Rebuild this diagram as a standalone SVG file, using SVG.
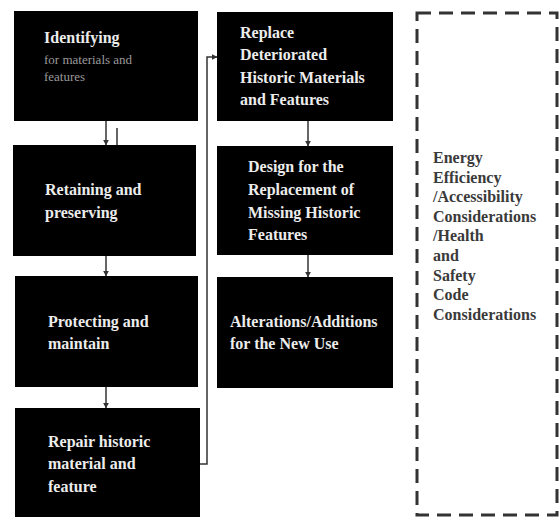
<svg xmlns="http://www.w3.org/2000/svg" width="559" height="517" viewBox="0 0 559 517">
<style>
.box{fill:#000}
.t{font-family:"Liberation Serif","Times New Roman",serif;font-weight:bold;font-size:16px;fill:#ececec}
.s{font-family:"Liberation Serif","Times New Roman",serif;font-size:13px;fill:#9a9a9a}
.d{font-family:"Liberation Serif","Times New Roman",serif;font-weight:bold;font-size:16px;fill:#3a3a3a}
.c{fill:none;stroke:#333;stroke-width:1.5}
</style>
<defs>
<marker id="ah" viewBox="0 0 10 10" refX="9" refY="5" markerWidth="6" markerHeight="6" orient="auto" markerUnits="userSpaceOnUse">
<path d="M0,0 L10,5 L0,10 z" fill="#333"/>
</marker>
</defs>
<rect width="559" height="517" fill="#fff"/>
<g id="connectors">
<line class="c" x1="106" y1="121" x2="106" y2="145" marker-end="url(#ah)"/>
<line class="c" x1="117" y1="128" x2="117" y2="145"/>
<line class="c" x1="106" y1="256" x2="106" y2="276" marker-end="url(#ah)"/>
<line class="c" x1="106" y1="387" x2="106" y2="408" marker-end="url(#ah)"/>
<polyline class="c" points="200,464 207,464 207,57 217,57" marker-end="url(#ah)"/>
<line class="c" x1="308" y1="121" x2="308" y2="146" marker-end="url(#ah)"/>
<line class="c" x1="308" y1="255" x2="308" y2="277" marker-end="url(#ah)"/>
</g>
<g id="identifying">
<rect class="box" x="14" y="11" width="184" height="110"/>
<text class="t" x="44" y="43">Identifying</text>
<text class="s" x="44" y="64">for materials and</text>
<text class="s" x="44" y="81">features</text>
</g>
<g id="retaining">
<rect class="box" x="13" y="145" width="183" height="111"/>
<text class="t" x="45" y="195">Retaining and</text>
<text class="t" x="45" y="218">preserving</text>
</g>
<g id="protecting">
<rect class="box" x="15" y="276" width="183" height="111"/>
<text class="t" x="48" y="327">Protecting and</text>
<text class="t" x="48" y="349">maintain</text>
</g>
<g id="repair">
<rect class="box" x="15" y="408" width="185" height="112"/>
<text class="t" x="48" y="447">Repair historic</text>
<text class="t" x="48" y="469">material and</text>
<text class="t" x="48" y="492">feature</text>
</g>
<g id="replace">
<rect class="box" x="217" y="12" width="176" height="109"/>
<text class="t" x="240" y="38">Replace</text>
<text class="t" x="240" y="60">Deteriorated</text>
<text class="t" x="240" y="83">Historic Materials</text>
<text class="t" x="240" y="105">and Features</text>
</g>
<g id="design">
<rect class="box" x="217" y="146" width="176" height="109"/>
<text class="t" x="248" y="172">Design for the</text>
<text class="t" x="248" y="195">Replacement of</text>
<text class="t" x="248" y="218">Missing Historic</text>
<text class="t" x="248" y="240">Features</text>
</g>
<g id="alterations">
<rect class="box" x="217" y="277" width="176" height="111"/>
<text class="t" x="230" y="327">Alterations/Additions</text>
<text class="t" x="230" y="349">for the New Use</text>
</g>
<g id="considerations">
<rect x="417" y="13" width="140" height="502" fill="none" stroke="#333" stroke-width="3" stroke-dasharray="14 8"/>
<text class="d" x="433" y="163">Energy</text>
<text class="d" x="433" y="183">Efficiency</text>
<text class="d" x="433" y="202">/Accessibility</text>
<text class="d" x="433" y="222">Considerations</text>
<text class="d" x="433" y="241">/Health</text>
<text class="d" x="433" y="261">and</text>
<text class="d" x="433" y="281">Safety</text>
<text class="d" x="433" y="300">Code</text>
<text class="d" x="433" y="320">Considerations</text>
</g>
</svg>
